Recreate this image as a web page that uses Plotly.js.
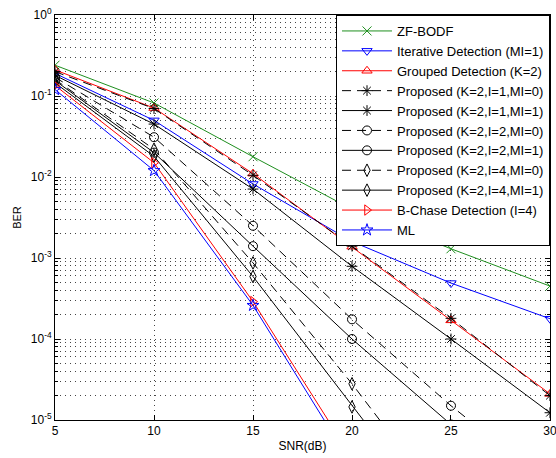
<!DOCTYPE html>
<html>
<head>
<meta charset="utf-8">
<script src="https://cdn.plot.ly/plotly-3.0.1.min.js"></script>
<style>html,body{margin:0;padding:0;background:#fff;}#chart{width:556px;height:458px;}</style>
</head>
<body>
<div id="chart"></div>
<script>
var snr = [5, 10, 15, 20, 25, 30];
var names = [
  'ZF-BODF',
  'Iterative Detection (MI=1)',
  'Grouped Detection (K=2)',
  'Proposed (K=2,I=1,MI=0)',
  'Proposed (K=2,I=1,MI=1)',
  'Proposed (K=2,I=2,MI=0)',
  'Proposed (K=2,I=2,MI=1)',
  'Proposed (K=2,I=4,MI=0)',
  'Proposed (K=2,I=4,MI=1)',
  'B-Chase Detection (I=4)',
  'ML'
];
var zfBodf   = [0.24, 0.082, 0.0178, 0.004, 0.0013, 0.00045];
var iterMI1  = [0.19, 0.050, 0.0082, 0.0016, 0.00049, 0.000178];
var grouped  = [0.21, 0.071, 0.011, 0.00138, 0.00017, 0.000021];
var pI1MI0   = [0.20, 0.070, 0.0105, 0.0014, 0.00018, 0.00002];
var pI1MI1   = [0.18, 0.045, 0.0071, 0.00079, 0.0001, 0.0000123];
var pI2MI0   = [0.17, 0.031, 0.0025, 0.000175, 0.000015, 0.0000016];
var pI2MI1   = [0.155, 0.020, 0.0014, 0.0001, 0.0000088, 0.0000007];
var pI4MI0   = [0.16, 0.022, 0.00087, 0.000028, 0.0000007, 0.00000003];
var pI4MI1   = [0.145, 0.018, 0.00059, 0.0000145, 0.0000004, 0.00000001];
var bChase   = [0.135, 0.015, 0.00029, 0.0000032, 0.00000004, 0.000000001];
var mlDet    = [0.12, 0.012, 0.00026, 0.0000029, 0.00000003, 0.000000001];

var yTickVals = [1, 0.1, 0.01, 0.001, 0.0001, 0.00001];
var yTickText = ['10<sup>0</sup>', '10<sup>-1</sup>', '10<sup>-2</sup>', '10<sup>-3</sup>', '10<sup>-4</sup>', '10<sup>-5</sup>'];
var xTickVals = [5, 10, 15, 20, 25, 30];
var xTickText = ['5', '10', '15', '20', '25', '30'];

var series = [zfBodf, iterMI1, grouped, pI1MI0, pI1MI1, pI2MI0, pI2MI1, pI4MI0, pI4MI1, bChase, mlDet];
var colors = ['#1f8f1f', '#0000ff', '#ff0000', '#000', '#000', '#000', '#000', '#000', '#000', '#ff0000', '#0000ff'];
var symbols = ['x-thin-open', 'triangle-down-open', 'triangle-up-open', 'asterisk-open', 'asterisk-open',
  'circle-open', 'circle-open', 'diamond-tall-open', 'diamond-tall-open', 'triangle-right-open', 'star-open'];
var dashes = ['solid', 'solid', 'solid', '9px,6px', 'solid', '9px,6px', 'solid', '9px,6px', 'solid', 'solid', 'solid'];

var traces = series.map(function (s, i) {
  return {
    x: snr, y: s, name: names[i], type: 'scatter', mode: 'lines+markers',
    line: {color: colors[i], width: 1, dash: dashes[i]},
    marker: {symbol: symbols[i], size: 9, color: colors[i], line: {color: colors[i], width: 1}},
    cliponaxis: true
  };
});

var ff = 'Liberation Sans, Arial, sans-serif';
var gridCol = '#444';
var gridDash = '1px,4px';
var layout = {
  width: 556, height: 458,
  margin: {l: 55, r: 6, t: 15, b: 38},
  paper_bgcolor: '#fff', plot_bgcolor: '#fff',
  font: {family: ff, size: 12, color: '#000'},
  showlegend: true,
  legend: {
    x: 1, xanchor: 'right', y: 1, yanchor: 'top',
    bgcolor: '#fff', bordercolor: '#000', borderwidth: 1,
    font: {family: ff, size: 13, color: '#000'},
    tracegroupgap: 0, itemwidth: 50
  },
  xaxis: {
    range: [4.999, 30.001], tickmode: 'array', tickvals: xTickVals, ticktext: xTickText,
    ticks: 'inside', ticklen: 5, tickcolor: '#000', ticklabeloverflow: 'allow',
    showline: true, linecolor: '#000', linewidth: 1, mirror: 'ticks',
    showgrid: true, gridcolor: gridCol, gridwidth: 1, griddash: gridDash,
    zeroline: false,
    title: {text: 'SNR(dB)', font: {size: 12}, standoff: 4},
    tickfont: {size: 12}
  },
  yaxis: {
    type: 'log', range: [-5, 0], tickmode: 'array', tickvals: yTickVals, ticktext: yTickText,
    ticks: 'inside', ticklen: 5, tickcolor: '#000',
    showline: true, linecolor: '#000', linewidth: 1, mirror: 'ticks',
    showgrid: true, gridcolor: gridCol, gridwidth: 1, griddash: gridDash,
    minor: {dtick: 'D1', showgrid: true, gridcolor: gridCol, gridwidth: 1, griddash: gridDash, ticks: 'inside', ticklen: 3, tickcolor: '#000'},
    zeroline: false,
    title: {text: 'BER', font: {size: 11}, standoff: 6},
    tickfont: {size: 12}
  }
};

Plotly.newPlot('chart', traces, layout, {displayModeBar: false, staticPlot: true});
</script>
</body>
</html>
